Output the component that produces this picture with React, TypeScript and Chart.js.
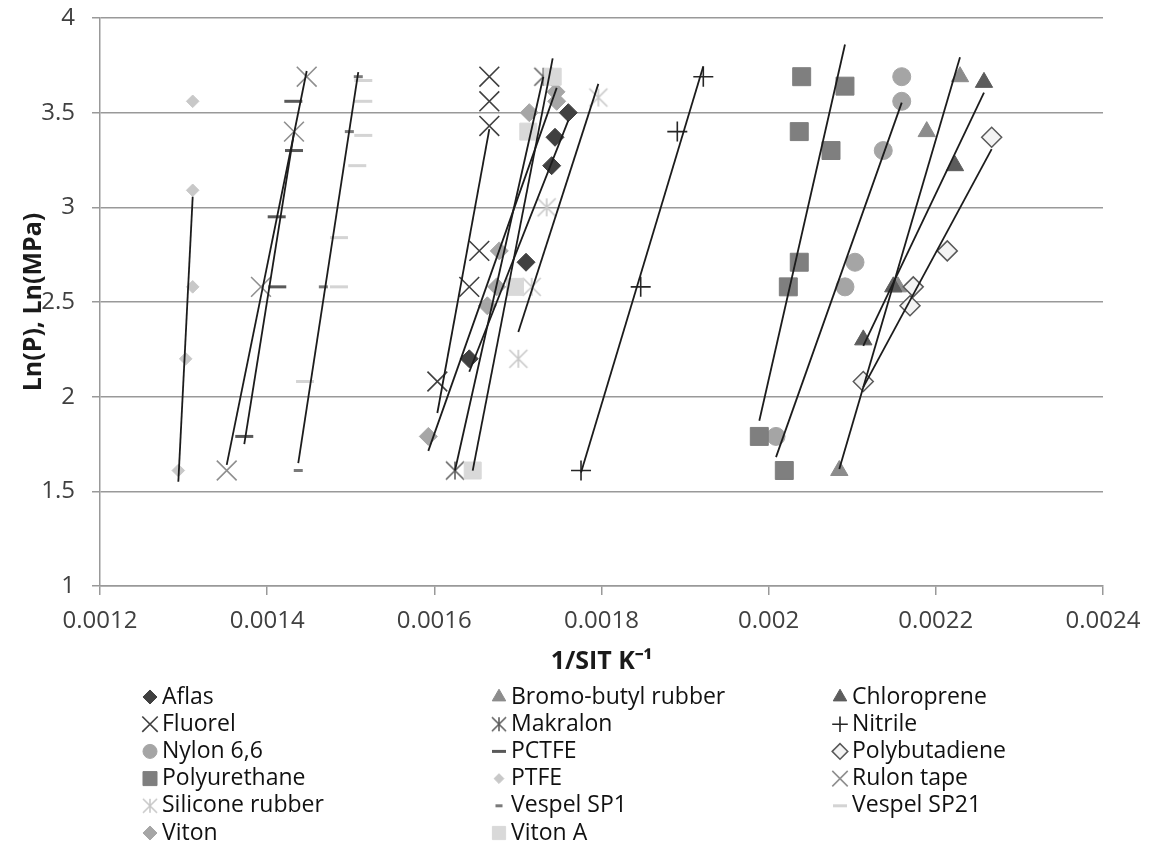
import React, { useEffect, useRef } from 'react';
import { Chart, registerables } from 'chart.js';
import { drawPoint } from 'chart.js/helpers';

Chart.register(...registerables);

// ---------- DATA ----------
const seriesNames = [
  'Aflas', 'Bromo-butyl rubber', 'Chloroprene',
  'Fluorel', 'Makralon', 'Nitrile',
  'Nylon 6,6', 'PCTFE', 'Polybutadiene',
  'Polyurethane', 'PTFE', 'Rulon tape',
  'Silicone rubber', 'Vespel SP1', 'Vespel SP21',
  'Viton', 'Viton A',
];

const aflas = [[0.0017603, 3.50], [0.0017444, 3.37], [0.0017404, 3.22], [0.0017097, 2.71], [0.0016418, 2.20]];
const bromoButyl = [[0.0022289, 3.69], [0.0021891, 3.40], [0.0021547, 2.58], [0.0020845, 1.61]];
const chloroprene = [[0.0022576, 3.66], [0.0022229, 3.22], [0.0021491, 2.58], [0.0021132, 2.30]];
const fluorel = [[0.0016658, 3.69], [0.0016658, 3.56], [0.0016658, 3.43], [0.0016538, 2.77], [0.0016418, 2.58], [0.0016036, 2.08]];
const makralon = [[0.0016247, 1.61], [0.0017304, 3.69]];
const nitrile = [[0.0017755, 1.61], [0.0018469, 2.58], [0.0018907, 3.40], [0.0019218, 3.69]];
const nylon66 = [[0.0021592, 3.69], [0.0021592, 3.56], [0.0021371, 3.30], [0.0021033, 2.71], [0.0020913, 2.58], [0.0020088, 1.79]];
const pctfe = [[0.0014313, 3.56], [0.0014321, 3.30], [0.0014114, 2.95], [0.0014121, 2.58], [0.0013726, 1.79]];
const polybutadiene = [[0.0022668, 3.37], [0.0022137, 2.77], [0.0021730, 2.58], [0.0021691, 2.48], [0.0021132, 2.08]];
const polyurethane = [[0.0020395, 3.69], [0.0020913, 3.64], [0.0020366, 3.40], [0.0020746, 3.30], [0.0020366, 2.71], [0.0020235, 2.58], [0.0019888, 1.79], [0.0020187, 1.61]];
const ptfe = [[0.0013109, 3.56], [0.0013109, 3.09], [0.0013109, 2.58], [0.0013025, 2.20], [0.0012937, 1.61]];
const rulonTape = [[0.0013516, 1.61], [0.0013926, 2.58], [0.0014321, 3.40], [0.0014473, 3.69]];
const siliconeRubber = [[0.0017962, 3.58], [0.0017344, 3.00], [0.0017165, 2.58], [0.0017005, 2.20]];
const vespelSP1 = [[0.0014372, 1.61], [0.0014672, 2.58], [0.0014983, 3.40], [0.0015090, 3.69]];
const vespelSP21 = [[0.0015150, 3.67], [0.0015150, 3.56], [0.0015150, 3.38], [0.0015078, 3.22], [0.0014859, 2.84], [0.0014859, 2.58], [0.0014453, 2.08]];
const viton = [[0.0015928, 1.79], [0.0016634, 2.48], [0.0016746, 2.58], [0.0016777, 2.77], [0.0017136, 3.50], [0.0017464, 3.56], [0.0017456, 3.61]];
const vitonA = [[0.0017416, 3.69], [0.0017124, 3.40], [0.0016965, 2.58], [0.0016459, 1.61]];

const seriesData = [
  aflas, bromoButyl, chloroprene,
  fluorel, makralon, nitrile,
  nylon66, pctfe, polybutadiene,
  polyurethane, ptfe, rulonTape,
  siliconeRubber, vespelSP1, vespelSP21,
  viton, vitonA,
];

// series that carry a linear trendline in the original
const hasTrendline = [
  true, true, true,
  true, true, true,
  true, true, true,
  true, true, true,
  true, true, false,
  true, true,
];

const xTickValues = [0.0012, 0.0014, 0.0016, 0.0018, 0.002, 0.0022, 0.0024];
const xTickLabels = ['0.0012', '0.0014', '0.0016', '0.0018', '0.002', '0.0022', '0.0024'];
const yTickValues = [1, 1.5, 2, 2.5, 3, 3.5, 4];
const yTickLabels = ['1', '1.5', '2', '2.5', '3', '3.5', '4'];

const xTitle = '1/SIT K\u207B\u00B9';
const yTitle = 'Ln(P), Ln(MPa)';

// ---------- STYLES ----------
type MarkerStyle = {
  pointStyle: string; // 'star6' = excel star, custom canvas
  radius: number;
  bg: string;
  border: string;
  bw: number;
};

const markerStyles: MarkerStyle[] = [
  { pointStyle: 'rectRot', radius: 9, bg: '#404040', border: '#404040', bw: 1 },
  { pointStyle: 'triangle', radius: 10, bg: '#8c8c8c', border: '#8c8c8c', bw: 1 },
  { pointStyle: 'triangle', radius: 10, bg: '#5c5c5c', border: '#5c5c5c', bw: 1 },
  { pointStyle: 'crossRot', radius: 14, bg: '#404040', border: '#404040', bw: 1.6 },
  { pointStyle: 'star6', radius: 9, bg: '#5e5e5e', border: '#5e5e5e', bw: 1.6 },
  { pointStyle: 'cross', radius: 10, bg: '#262626', border: '#262626', bw: 1.6 },
  { pointStyle: 'circle', radius: 9, bg: '#a5a5a5', border: '#a5a5a5', bw: 1 },
  { pointStyle: 'line', radius: 9, bg: '#595959', border: '#595959', bw: 3 },
  { pointStyle: 'rectRot', radius: 10, bg: '#f4f4f4', border: '#595959', bw: 1.5 },
  { pointStyle: 'rect', radius: 12.7, bg: '#7f7f7f', border: '#7f7f7f', bw: 1 },
  { pointStyle: 'rectRot', radius: 6.3, bg: '#c8c8c8', border: '#c8c8c8', bw: 1 },
  { pointStyle: 'crossRot', radius: 14, bg: '#8f8f8f', border: '#8f8f8f', bw: 1.6 },
  { pointStyle: 'star6', radius: 9, bg: '#c8c8c8', border: '#c8c8c8', bw: 1.6 },
  { pointStyle: 'line', radius: 4.5, bg: '#7a7a7a', border: '#7a7a7a', bw: 3 },
  { pointStyle: 'line', radius: 9, bg: '#d4d4d4', border: '#d4d4d4', bw: 3 },
  { pointStyle: 'rectRot', radius: 9, bg: '#a6a6a6', border: '#a6a6a6', bw: 1 },
  { pointStyle: 'rect', radius: 12, bg: '#d9d9d9', border: '#d9d9d9', bw: 1 },
];

const FONT = '"Open Sans", "Liberation Sans", sans-serif';
const legendColX = [150, 499, 840];
const legendTextGap = 12;
const legendRowY0 = 697;
const legendRowGap = 27.2;
const legendScale = 0.78;

function makeStar(color: string, half: number, lw: number) {
  const c = document.createElement('canvas');
  const d = Math.ceil(half * 2 + lw * 2 + 2);
  c.width = d;
  c.height = d;
  const g = c.getContext('2d')!;
  g.strokeStyle = color;
  g.lineWidth = lw;
  const m = d / 2;
  g.beginPath();
  g.moveTo(m - half, m - half);
  g.lineTo(m + half, m + half);
  g.moveTo(m + half, m - half);
  g.lineTo(m - half, m + half);
  g.moveTo(m, m - half);
  g.lineTo(m, m + half);
  g.stroke();
  return c;
}

function trend(points: number[][]) {
  const n = points.length;
  const mx = points.reduce((s, p) => s + p[0], 0) / n;
  const my = points.reduce((s, p) => s + p[1], 0) / n;
  let sxy = 0;
  let sxx = 0;
  for (const [x, y] of points) {
    sxy += (x - mx) * (y - my);
    sxx += (x - mx) * (x - mx);
  }
  const b = sxy / sxx;
  const a = my - b * mx;
  const xs = points.map((p) => p[0]);
  const x0 = Math.min(...xs);
  const x1 = Math.max(...xs);
  return [{ x: x0, y: a + b * x0 }, { x: x1, y: a + b * x1 }];
}

export default function App() {
  const ref = useRef<HTMLCanvasElement | null>(null);

  useEffect(() => {
    if (!ref.current) return;
    const chartStyles = markerStyles.map((s) =>
      s.pointStyle === 'star6' ? makeStar(s.border, s.radius, s.bw) : s.pointStyle
    );
    const legendStyles = markerStyles.map((s) =>
      s.pointStyle === 'star6' ? makeStar(s.border, s.radius * legendScale, s.bw) : s.pointStyle
    );

    const n = seriesNames.length;
    const pointSets: any[] = seriesData.map((pts, i) => {
      const st = markerStyles[i];
      return {
        label: seriesNames[i],
        data: pts.map((p) => ({ x: p[0], y: p[1] })),
        showLine: false,
        pointStyle: chartStyles[i],
        pointRadius: st.radius,
        pointHoverRadius: st.radius,
        pointBackgroundColor: st.bg,
        pointBorderColor: st.border,
        pointBorderWidth: st.bw,
        order: n - i + 1,
      };
    });
    const trendSets: any[] = [];
    seriesData.forEach((pts, i) => {
      if (!hasTrendline[i]) return;
      trendSets.push({
        label: 'Linear (' + seriesNames[i] + ')',
        data: trend(pts),
        showLine: true,
        borderColor: '#1c1c1c',
        borderWidth: 1.8,
        pointRadius: 0,
        fill: false,
        order: 0,
      });
    });

    const legendPlugin = {
      id: 'gridLegend',
      afterDraw(chart: any) {
        const ctx = chart.ctx as CanvasRenderingContext2D;
        ctx.save();
        seriesNames.forEach((name, i) => {
          const col = i % 3;
          const row = Math.floor(i / 3);
          const mx = legendColX[col];
          const my = legendRowY0 + row * legendRowGap;
          const st = markerStyles[i];
          ctx.fillStyle = st.bg;
          ctx.strokeStyle = st.border;
          ctx.lineWidth = st.bw;
          drawPoint(ctx, { pointStyle: legendStyles[i] as any, radius: st.radius * legendScale, borderWidth: st.bw, rotation: 0 } as any, mx, my);
          ctx.fillStyle = '#111111';
          ctx.font = '23px ' + FONT;
          ctx.textBaseline = 'middle';
          ctx.textAlign = 'left';
          ctx.fillText(name, mx + legendTextGap, my);
        });
        ctx.restore();
      },
    };

    const chart = new Chart(ref.current, {
      type: 'scatter',
      data: { datasets: [...trendSets, ...pointSets] },
      options: {
        animation: false,
        responsive: false,
        maintainAspectRatio: false,
        layout: { padding: { left: 0, top: 18, right: 56, bottom: 0 } },
        plugins: {
          legend: { display: false },
          tooltip: { enabled: false },
        },
        scales: {
          x: {
            type: 'linear',
            min: 0.0012,
            max: 0.0024,
            afterBuildTicks: (scale: any) => {
              scale.ticks = xTickValues.map((v) => ({ value: v }));
            },
            afterFit: (scale: any) => {
              scale.height = 275;
            },
            ticks: {
              callback: (_v: any, idx: number) => xTickLabels[idx],
              font: { family: FONT, size: 24 },
              color: '#404040',
              padding: 12,
              maxRotation: 0,
              autoSkip: false,
            },
            grid: {
              drawOnChartArea: false,
              drawTicks: true,
              tickLength: 9,
              color: '#999999',
              lineWidth: 1.5,
            },
            border: { display: true, color: '#999999', width: 1.5 },
            title: {
              display: true,
              text: xTitle,
              font: { family: FONT, size: 25, weight: 'bold' },
              color: '#1a1a1a',
              padding: { top: 0, bottom: 184 },
            },
          },
          y: {
            type: 'linear',
            min: 1,
            max: 4,
            afterBuildTicks: (scale: any) => {
              scale.ticks = yTickValues.map((v) => ({ value: v }));
            },
            afterFit: (scale: any) => {
              scale.width = 100;
              scale.paddingTop = 0;
              scale.paddingBottom = 0;
            },
            ticks: {
              callback: (_v: any, idx: number) => yTickLabels[idx],
              font: { family: FONT, size: 24 },
              color: '#404040',
              padding: 17,
              autoSkip: false,
            },
            grid: {
              drawTicks: true,
              tickLength: 8,
              color: '#999999',
              lineWidth: 1.5,
            },
            border: { display: true, color: '#999999', width: 1.5 },
            title: {
              display: true,
              text: yTitle,
              font: { family: FONT, size: 25, weight: 'bold' },
              color: '#1a1a1a',
              padding: { top: 19, bottom: 0 },
            },
          },
        },
      },
      plugins: [legendPlugin],
    } as any);

    return () => chart.destroy();
  }, []);

  return (
    <div style={{ position: 'absolute', left: 0, top: 0, width: 1159, height: 861, background: '#ffffff' }}>
      <canvas ref={ref} width={1159} height={861} style={{ display: 'block' }} />
    </div>
  );
}
